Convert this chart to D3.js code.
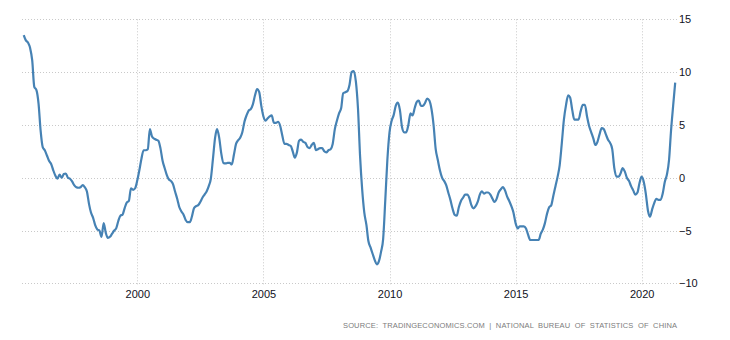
<!DOCTYPE html>
<html>
<head>
<meta charset="utf-8">
<script src="https://cdn.jsdelivr.net/npm/d3@7"></script>
<style>
  html, body { margin: 0; padding: 0; background: #fff; }
  svg { display: block; }
  text { font-family: "Liberation Sans", Arial, sans-serif; }
</style>
</head>
<body>
<svg id="chart" width="730" height="340"></svg>
<script>
// ---- Data: China producer price index, YoY %, monthly from July 1995 ----
const firstMonth = [1995, 7]; // year, month of first value
const ppi1995 = [13.5, 13.0, 12.8, 12.3, 11.1, 8.6];
const ppi1996 = [8.3, 7.0, 4.5, 2.9, 2.6, 2.1, 1.6, 1.3, 0.7, 0.2, -0.1, 0.3];
const ppi1997 = [0.0, 0.35, 0.4, 0.0, -0.1, -0.35, -0.7, -0.9, -0.95, -0.9, -0.7, -0.9];
const ppi1998 = [-1.3, -2.5, -3.3, -3.8, -4.5, -4.9, -5.0, -5.6, -4.3, -5.2, -5.7, -5.6];
const ppi1999 = [-5.3, -5.0, -4.8, -4.1, -3.6, -3.5, -2.9, -2.35, -2.2, -1.0, -1.15, -1.0];
const ppi2000 = [-0.25, 0.75, 1.8, 2.6, 2.6, 2.7, 4.6, 3.9, 3.7, 3.6, 3.5, 2.8];
const ppi2001 = [1.6, 0.9, 0.3, -0.15, -0.3, -0.6, -1.3, -2.0, -2.8, -3.2, -3.5, -4.0];
const ppi2002 = [-4.2, -4.2, -3.7, -2.9, -2.7, -2.6, -2.3, -1.9, -1.6, -1.3, -0.8, -0.1];
const ppi2003 = [1.8, 3.8, 4.6, 3.8, 2.3, 1.4, 1.35, 1.4, 1.4, 1.25, 2.2, 3.2];
const ppi2004 = [3.55, 3.8, 4.3, 5.3, 5.9, 6.35, 6.5, 6.95, 7.8, 8.4, 8.1, 6.8];
const ppi2005 = [5.8, 5.4, 5.6, 5.8, 5.9, 5.2, 5.2, 5.3, 4.9, 4.0, 3.2, 3.2];
const ppi2006 = [3.1, 3.0, 2.5, 1.9, 2.4, 3.5, 3.6, 3.4, 3.3, 2.9, 2.8, 3.1];
const ppi2007 = [3.3, 2.6, 2.7, 2.8, 2.8, 2.5, 2.4, 2.6, 2.7, 3.2, 4.6, 5.4];
const ppi2008 = [6.1, 6.6, 8.0, 8.1, 8.2, 8.8, 10.0, 10.1, 9.1, 6.6, 2.0, -1.1];
const ppi2009 = [-3.3, -4.5, -6.0, -6.6, -7.2, -7.8, -8.2, -7.9, -7.0, -5.8, -2.1, 1.7];
const ppi2010 = [4.3, 5.4, 5.9, 6.8, 7.1, 6.4, 4.8, 4.3, 4.3, 5.0, 6.1, 5.9];
const ppi2011 = [6.6, 7.2, 7.3, 6.8, 6.8, 7.1, 7.5, 7.3, 6.5, 5.0, 2.7, 1.7];
const ppi2012 = [0.7, 0.0, -0.3, -0.7, -1.4, -2.1, -2.9, -3.5, -3.6, -2.8, -2.2, -1.9];
const ppi2013 = [-1.6, -1.6, -1.9, -2.6, -2.9, -2.7, -2.3, -1.6, -1.3, -1.5, -1.4, -1.4];
const ppi2014 = [-1.6, -2.0, -2.3, -2.0, -1.4, -1.1, -0.9, -1.2, -1.8, -2.2, -2.7, -3.3];
const ppi2015 = [-4.3, -4.8, -4.6, -4.6, -4.6, -4.8, -5.4, -5.9, -5.9, -5.9, -5.9, -5.9];
const ppi2016 = [-5.3, -4.9, -4.3, -3.4, -2.8, -2.6, -1.7, -0.8, 0.1, 1.2, 3.3, 5.5];
const ppi2017 = [6.9, 7.8, 7.6, 6.4, 5.5, 5.5, 5.5, 6.3, 6.9, 6.9, 5.8, 4.9];
const ppi2018 = [4.3, 3.7, 3.1, 3.4, 4.1, 4.7, 4.6, 4.1, 3.6, 3.3, 2.7, 0.9];
const ppi2019 = [0.1, 0.1, 0.4, 0.9, 0.6, 0.0, -0.3, -0.8, -1.2, -1.6, -1.4, -0.5];
const ppi2020 = [0.1, -0.4, -1.5, -3.1, -3.7, -3.0, -2.4, -2.0, -2.1, -2.1, -1.5, -0.4];
const ppi2021 = [0.3, 1.7, 4.4, 6.8, 9.0];

const yearTicks = [2000, 2005, 2010, 2015, 2020];
const valueTicks = [-10, -5, 0, 5, 10, 15];
const sourceText = "SOURCE:  TRADINGECONOMICS.COM  |  NATIONAL  BUREAU  OF  STATISTICS  OF  CHINA";

// ---- Build series ----
const allValues = [].concat(ppi1995, ppi1996, ppi1997, ppi1998, ppi1999, ppi2000,
  ppi2001, ppi2002, ppi2003, ppi2004, ppi2005, ppi2006, ppi2007, ppi2008, ppi2009,
  ppi2010, ppi2011, ppi2012, ppi2013, ppi2014, ppi2015, ppi2016, ppi2017, ppi2018,
  ppi2019, ppi2020, ppi2021);
const series = allValues.map((v, i) => ({
  date: new Date(firstMonth[0], firstMonth[1] - 1 + i, 1),
  value: v
}));

// ---- Layout ----
const svg = d3.select("#chart");
const plotLeft = 22, plotRight = 677, plotTop = 19.3, plotBottom = 283.3;

const x = d3.scaleTime()
  .domain([new Date(1995, 5, 6), new Date(2021, 4, 27)])
  .range([plotLeft, plotRight]);
const y = d3.scaleLinear().domain([-10, 15]).range([plotBottom, plotTop]);

const gridColor = "#c9c9c9";

// horizontal gridlines
svg.append("g").selectAll("line").data(valueTicks).join("line")
  .attr("x1", plotLeft).attr("x2", plotRight)
  .attr("y1", d => Math.round(y(d)) + 0.5).attr("y2", d => Math.round(y(d)) + 0.5)
  .attr("stroke", gridColor).attr("stroke-width", 1)
  .attr("stroke-dasharray", "1,2");

// vertical gridlines
svg.append("g").selectAll("line").data(yearTicks).join("line")
  .attr("x1", d => Math.round(x(new Date(d, 0, 1))) + 0.5)
  .attr("x2", d => Math.round(x(new Date(d, 0, 1))) + 0.5)
  .attr("y1", plotTop).attr("y2", plotBottom + 3)
  .attr("stroke", gridColor).attr("stroke-width", 1)
  .attr("stroke-dasharray", "1,2");

// right value axis
const yAxis = d3.axisRight(y).tickValues(valueTicks).tickSize(0).tickPadding(2)
  .tickFormat(d3.format("d"));
const gy = svg.append("g").attr("transform", `translate(${plotRight},0)`).call(yAxis);
gy.select(".domain").remove();
gy.selectAll("text").attr("font-size", 11).attr("fill", "#111122")
  .attr("font-family", "'Liberation Sans', Arial, sans-serif");

// bottom year axis
const xAxis = d3.axisBottom(x).tickValues(yearTicks.map(d => new Date(d, 0, 1)))
  .tickSize(0).tickPadding(7).tickFormat(d3.timeFormat("%Y"));
const gx = svg.append("g").attr("transform", `translate(0,${plotBottom})`).call(xAxis);
gx.select(".domain").remove();
gx.selectAll("text").attr("font-size", 11).attr("fill", "#111122")
  .attr("font-family", "'Liberation Sans', Arial, sans-serif");

// line
const line = d3.line()
  .x(d => x(d.date))
  .y(d => y(d.value))
  .curve(d3.curveMonotoneX);
svg.append("path").datum(series)
  .attr("d", line)
  .attr("fill", "none")
  .attr("stroke", "#4682b4")
  .attr("stroke-width", 2.2)
  .attr("stroke-linejoin", "round");

// source
svg.append("text")
  .attr("x", 343).attr("y", 328)
  .attr("font-size", 7.5)
  .attr("font-family", "'DejaVu Sans', Verdana, sans-serif")
  .attr("fill", "#7c7c7c")
  .style("white-space", "pre")
  .attr("textLength", 334)
  .attr("lengthAdjust", "spacing")
  .text(sourceText);
</script>
</body>
</html>
